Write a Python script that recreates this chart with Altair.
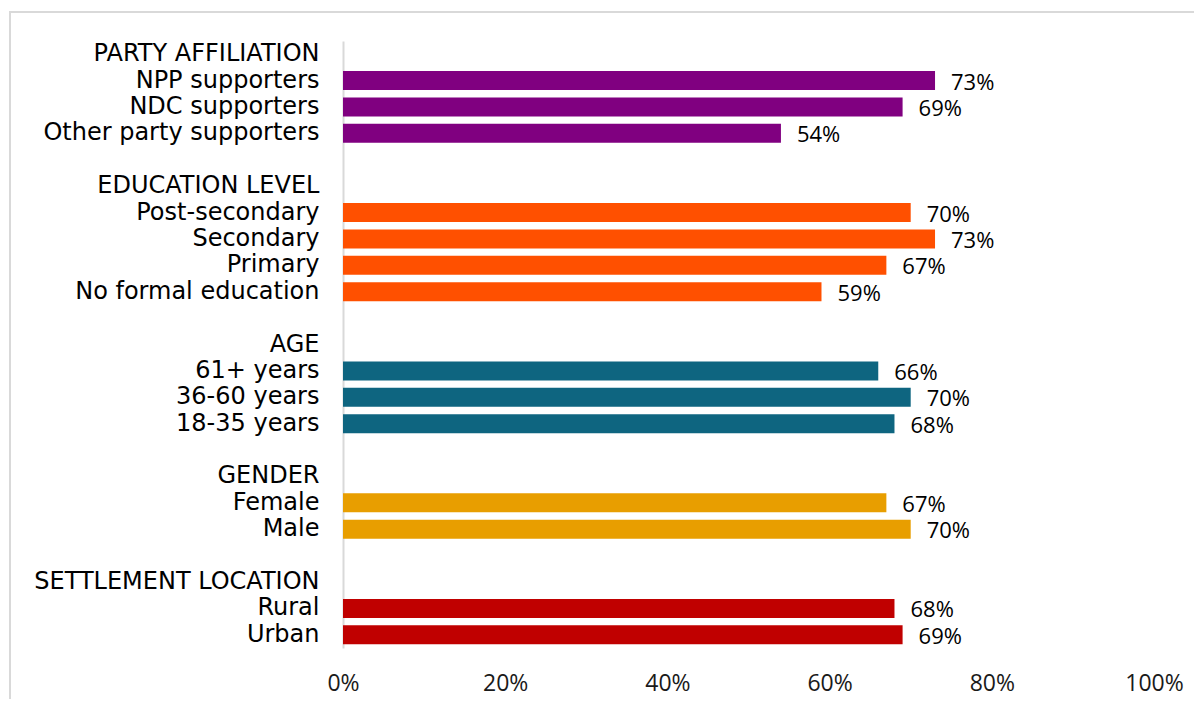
import altair as alt
import pandas as pd

groups = ["PARTY AFFILIATION", "EDUCATION LEVEL", "AGE", "GENDER", "SETTLEMENT LOCATION"]
party_items = ["NPP supporters", "NDC supporters", "Other party supporters"]
party_vals = [73, 69, 54]
edu_items = ["Post-secondary", "Secondary", "Primary", "No formal education"]
edu_vals = [70, 73, 67, 59]
age_items = ["61+ years", "36-60 years", "18-35 years"]
age_vals = [66, 70, 68]
gender_items = ["Female", "Male"]
gender_vals = [67, 70]
settle_items = ["Rural", "Urban"]
settle_vals = [68, 69]
colors = ["#800080", "#FF5000", "#0E6580", "#E89E00", "#C00000"]
x_ticks = [0, 20, 40, 60, 80, 100]

items = [party_items, edu_items, age_items, gender_items, settle_items]
vals = [party_vals, edu_vals, age_vals, gender_vals, settle_vals]

rows = []
for gi, g in enumerate(groups):
    rows.append({"cat": g, "value": None, "group": g, "label": ""})
    for it, v in zip(items[gi], vals[gi]):
        rows.append({"cat": it, "value": v, "group": g, "label": f"{v}%"})
    if gi < len(groups) - 1:
        rows.append({"cat": " " * (gi + 1), "value": None, "group": g, "label": ""})

df = pd.DataFrame(rows)
order = list(df["cat"])
bars_df = df[df["value"].notna()].copy()

YFONT = "DejaVu Sans"
FONT = "Open Sans"

y_enc = alt.Y("cat:N", sort=order, title=None,
              scale=alt.Scale(paddingInner=0.28, paddingOuter=0.14),
              axis=alt.Axis(labelFontSize=24, labelColor="#000000", labelFont=YFONT,
                            labelPadding=24, ticks=False, domainColor="#D9D9D9",
                            domainWidth=2, labelLimit=400, labelOverlap=False,
                            grid=False))
x_enc = alt.X("value:Q", title=None,
              scale=alt.Scale(domain=[0, 100], nice=False),
              axis=alt.Axis(values=x_ticks, labelExpr="datum.value + '%'",
                            labelFontSize=23, labelColor="#1a1a1a", labelFont=FONT,
                            labelPadding=24, ticks=False, domain=False, grid=False,
                            labelFlush=False, labelOverlap=False))

color_enc = alt.Color("group:N", scale=alt.Scale(domain=groups, range=colors), legend=None)

bars = alt.Chart(bars_df).mark_bar().encode(x=x_enc, y=y_enc, color=color_enc)
labels = alt.Chart(bars_df).mark_text(align="left", baseline="middle", dx=16, dy=2,
                                      fontSize=22, font=FONT, color="#000000").encode(
    x="value:Q", y=alt.Y("cat:N", sort=order), text="label:N")

axis_layer = alt.Chart(df).mark_point(opacity=0).encode(y=y_enc)

frame = alt.Chart(pd.DataFrame({"k": [0]})).mark_rect(
    fill=None, stroke="#D9D9D9", strokeWidth=2).encode(
    x=alt.value(-333), x2=alt.value(880), y=alt.value(-29), y2=alt.value(700))

chart = alt.layer(frame, axis_layer, bars, labels).properties(
    width=811, height=607,
    background="#FFFFFF",
    autosize=alt.AutoSizeParams(type="none"),
    padding={"left": 335, "top": 33, "right": 40, "bottom": 51},
).configure_view(strokeWidth=0, stroke="transparent")

chart.save("out.html", embed_options={"renderer": "svg", "actions": False})
